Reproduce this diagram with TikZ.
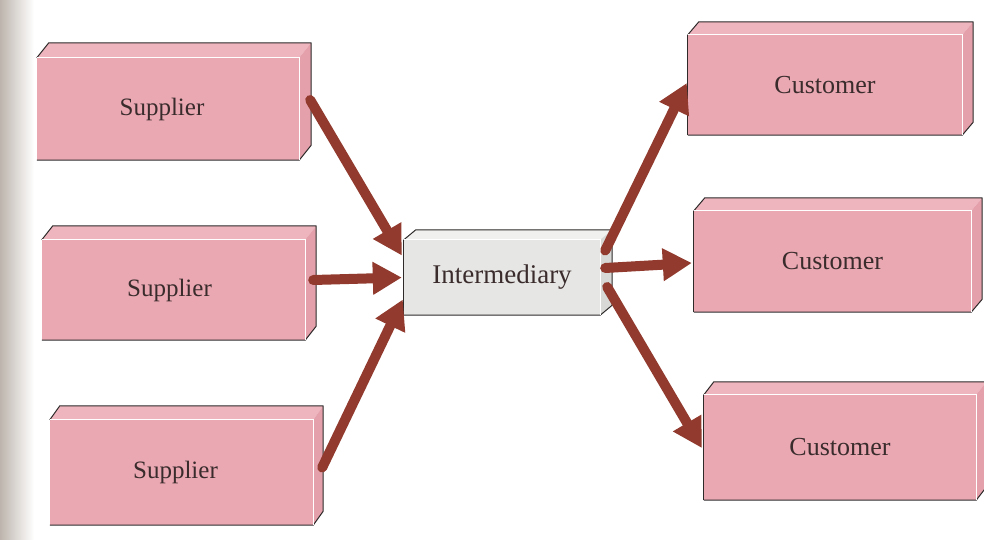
\documentclass[tikz,border=0pt]{standalone}
\usepackage{fontspec}
\setmainfont{Liberation Serif}
\usetikzlibrary{arrows.meta,calc}
\definecolor{pinkfront}{HTML}{EAA8B3}
\definecolor{pinktop}{HTML}{EEB5BE}
\definecolor{pinkside}{HTML}{E4A1AC}
\definecolor{greyfront}{HTML}{E6E6E4}
\definecolor{greytop}{HTML}{F0F0EE}
\definecolor{greyside}{HTML}{D8D8D6}
\definecolor{arrowred}{HTML}{913A2D}
\definecolor{txt}{HTML}{3A2C2C}
\definecolor{edgecol}{HTML}{2E2A2A}
\definecolor{binding}{HTML}{BDB5AD}
\tikzset{
  facebox/.style={draw=none, inner sep=0pt, text=txt, anchor=center},
  pinkbox/.style={facebox, fill=pinkfront, font=\fontsize{25}{30}\selectfont},
  greybox/.style={facebox, fill=greyfront, font=\fontsize{27}{32}\selectfont},
  edge/.style={draw=edgecol, line width=1pt, line join=round},
  flow/.style={draw=arrowred, line width=10pt, line cap=round, -{Triangle[width=31pt,length=29pt]}},
}
% #1 node, #2 dx, #3 dy, #4 top colour, #5 side colour, #6 style of left edge
\newcommand\boxfaces[6]{%
  \fill[#4] (#1.north west) -- ++(#2,#3) -- ($(#1.north east)+(#2,#3)$) -- (#1.north east) -- cycle;
  \fill[#5] (#1.north east) -- ++(#2,#3) -- ($(#1.south east)+(#2,#3)$) -- (#1.south east) -- cycle;
  \draw[edge] (#1.north west) -- ++(#2,#3) -- ($(#1.north east)+(#2,#3)$) -- ($(#1.south east)+(#2,#3)$) -- (#1.south east) -- (#1.south west);
  \draw[#6] (#1.south west) -- (#1.north west);
  \draw[white, line width=1.2pt] (#1.north west) -- (#1.north east) -- (#1.south east);
}
\begin{document}
\begin{tikzpicture}[x=1pt,y=-1pt]
\useasboundingbox (0,0) rectangle (984,540);
\fill[white] (0,0) rectangle (984,540);
\shade[left color=binding, right color=white] (0,0) rectangle (34,540);

% suppliers
\node[pinkbox, minimum width=262pt, minimum height=102pt, text width=262pt, align=center] (s1) at (168,109) {\hspace*{-12pt}Supplier};
\node[pinkbox, minimum width=263pt, minimum height=100pt, text width=263pt, align=center] (s2) at (173.5,290) {\hspace*{-8pt}Supplier};
\node[pinkbox, minimum width=263pt, minimum height=105pt, text width=263pt, align=center] (s3) at (181.5,472.5) {\hspace*{-12pt}Supplier};
% intermediary
\node[greybox, minimum width=196pt, minimum height=75pt] (im) at (502,277.5) {Intermediary};
% customers
\node[pinkbox, font=\fontsize{26}{31}\selectfont, minimum width=274pt, minimum height=100pt] (c1) at (825,85) {Customer};
\node[pinkbox, font=\fontsize{26}{31}\selectfont, minimum width=277pt, minimum height=101pt] (c2) at (832.5,261.5) {Customer};
\node[pinkbox, font=\fontsize{26}{31}\selectfont, minimum width=272pt, minimum height=105pt] (c3) at (840,447.5) {Customer};

\boxfaces{s1}{12}{-15}{pinktop}{pinkside}{draw=none}
\boxfaces{s2}{11}{-14}{pinktop}{pinkside}{draw=none}
\boxfaces{s3}{10}{-14}{pinktop}{pinkside}{draw=none}
\boxfaces{im}{12}{-10}{greytop}{greyside}{edge}
\boxfaces{c1}{11}{-13}{pinktop}{pinkside}{edge}
\boxfaces{c2}{11}{-13}{pinktop}{pinkside}{edge}
\boxfaces{c3}{10}{-13}{pinktop}{pinkside}{edge}

% flows into intermediary
\draw[flow] ([shift={(11,-9)}]s1.east) -- ([shift={(-2,-22)}]im.west);
\draw[flow] ([shift={(8,-10)}]s2.east) -- ([shift={(-2,0)}]im.west);
\draw[flow] ([shift={(9,-5)}]s3.east) -- ([shift={(-1,22)}]im.west);
% flows out to customers
\draw[flow] ([shift={(5,-27)}]im.east) -- ([shift={(-1,-2)}]c1.west);
\draw[flow] ([shift={(5,-9.5)}]im.east) -- ([shift={(-2,1.5)}]c2.west);
\draw[flow] ([shift={(7,9.5)}]im.east) -- ([shift={(-2,0.5)}]c3.west);
\end{tikzpicture}
\end{document}
